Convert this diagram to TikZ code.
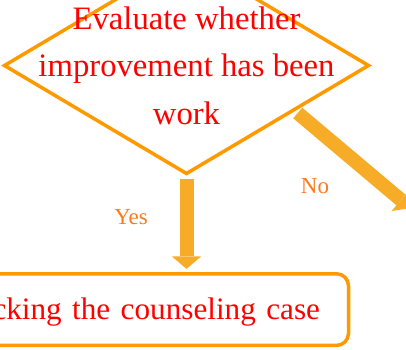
\documentclass[tikz,border=0pt]{standalone}
\usepackage{fontspec}
\setmainfont{Liberation Serif}
\usetikzlibrary{shapes.geometric,arrows.meta,calc}
\definecolor{edgeorange}{RGB}{255,153,0}
\definecolor{arrowgold}{RGB}{247,172,40}
\definecolor{labelorange}{RGB}{252,122,30}
\definecolor{textred}{RGB}{255,0,0}
\tikzset{
  decision/.style={draw=edgeorange, line width=3.5pt, shape=diamond, inner sep=0pt,
    outer sep=0pt, minimum width=364pt, minimum height=216pt},
  maintext/.style={text=textred, inner sep=0pt, align=center,
    font=\fontsize{32.7}{47.5}\selectfont},
  process/.style={draw=edgeorange, line width=3.5pt, rounded corners=12pt,
    text=textred, font=\fontsize{31.2}{40}\selectfont, align=right,
    text width=400pt, inner xsep=28.5pt, inner ysep=0pt, outer sep=0pt,
    minimum height=71.7pt, text height=22pt, text depth=1.5pt},
  bigarrow/.style={draw=arrowgold, line width=14pt, line cap=butt,
    -{Triangle[width=29pt,length=12.5pt,line width=0pt]}},
  branchlabel/.style={text=labelorange, inner sep=0pt,
    font=\fontsize{23}{27}\selectfont}
}
\begin{document}
\begin{tikzpicture}[x=1pt,y=-1pt]
  \useasboundingbox (0,0) rectangle (406,349);
  \clip (0,0) rectangle (406,349);

  % decision diamond and its question
  \node[decision] (dec) at (186.5,65.5) {};
  \node[maintext] (dectext) at (186.5,65.7)
    {Evaluate whether\\improvement has been\\work};

  % process box at the end of the "Yes" branch
  \node[process, anchor=east] (box) at (348.5,309.6)
    {cking the counseling case};

  % free end of the "No" branch
  \coordinate (noend) at (410.5,208);
  \coordinate (nostart) at ($(dec.east)!0.41!(dec.south)$);

  % branches
  \draw[bigarrow] ([yshift=-5pt]dec.south) -- ([yshift=4.8pt]dec.south |- box.north);
  \draw[bigarrow, shorten <=5pt] (nostart) -- (noend);

  % branch labels
  \node[branchlabel] (yes) at (131,217.5) {Yes};
  \node[branchlabel] (no) at (315,186.5) {No};
\end{tikzpicture}
\end{document}
